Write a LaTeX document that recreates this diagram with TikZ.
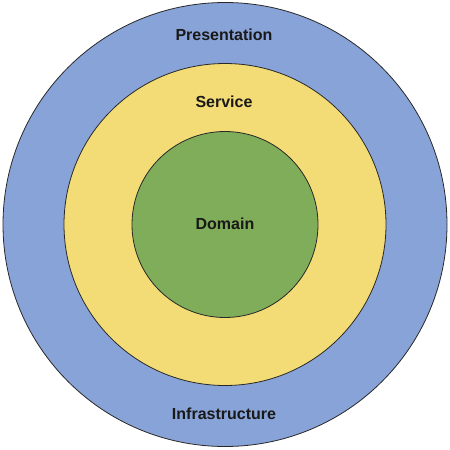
\documentclass[tikz,border=0pt]{standalone}
\usepackage{fontspec}
\setmainfont{Liberation Sans}
\definecolor{ringblue}{RGB}{136,163,216}
\definecolor{ringyellow}{RGB}{243,220,118}
\definecolor{ringgreen}{RGB}{127,173,89}
\definecolor{edge}{RGB}{40,40,40}
\tikzset{
  ring/.style={circle, draw=edge, line width=0.8pt, inner sep=0pt},
  lbl/.style={font=\fontsize{16}{18}\selectfont\bfseries, text=black!90, inner sep=0pt}
}
\begin{document}
\begin{tikzpicture}[x=1pt,y=-1pt]
\useasboundingbox (0,0) rectangle (450,450);
\node[ring, fill=ringblue, minimum size=444pt] (outer) at (225,224.5) {};
\node[ring, fill=ringyellow, minimum size=322pt] (middle) at (225,224.5) {};
\node[ring, fill=ringgreen, minimum size=186pt] (inner) at (225,224.5) {};
\node[lbl] (pres) at (224,35) {Presentation};
\node[lbl] (serv) at (224,102) {Service};
\node[lbl] (dom) at (225,224) {Domain};
\node[lbl] (infra) at (224,414) {Infrastructure};
\end{tikzpicture}
\end{document}
